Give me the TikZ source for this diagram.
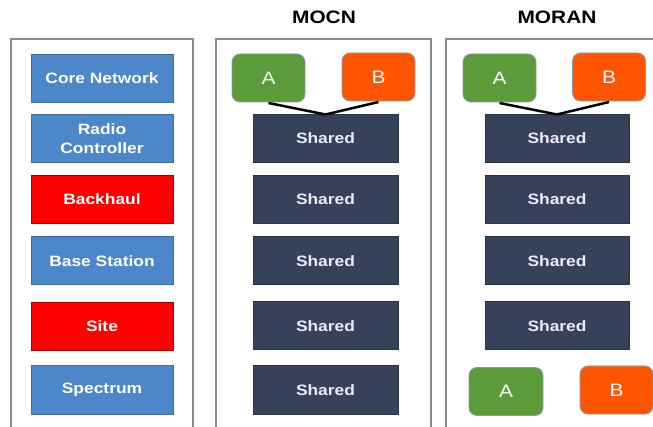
\documentclass[tikz,border=0pt]{standalone}
\usepackage{fontspec}
\newfontfamily\boxfont{Liberation Sans}[FakeStretch=1.16]
\definecolor{layerblue}{HTML}{4C87C9}
\definecolor{layerblueedge}{HTML}{3D6C9E}
\definecolor{layerred}{HTML}{FF0000}
\definecolor{layerrededge}{HTML}{A00000}
\definecolor{shareddark}{HTML}{36425A}
\definecolor{shareddarkedge}{HTML}{2A3447}
\definecolor{opgreen}{HTML}{5B9B3A}
\definecolor{oporange}{HTML}{FF5500}
\definecolor{opedge}{HTML}{8A9AA8}
\definecolor{panelgray}{HTML}{8C8C8C}
\tikzset{
  x=1pt, y=-1pt,
  layer/.style={rectangle, inner sep=0pt, outer sep=0pt, minimum width=142pt,
    minimum height=48pt, line width=1pt, text=white,
    font=\boxfont\bfseries\fontsize{15}{19}\selectfont, align=center},
  bluelayer/.style={layer, fill=layerblue, draw=layerblueedge},
  redlayer/.style={layer, fill=layerred, draw=layerrededge},
  sharedlayer/.style={layer, fill=shareddark, draw=shareddarkedge,
    minimum width=145pt, text=white!92!blue},
  operator/.style={rectangle, rounded corners=8pt, inner sep=0pt, outer sep=0pt,
    minimum width=73pt, minimum height=48pt, line width=0.8pt, draw=opedge,
    text=white, font=\boxfont\fontsize{18}{20}\selectfont},
  opA/.style={operator, fill=opgreen},
  opB/.style={operator, fill=oporange},
  panel/.style={draw=panelgray, line width=1.5pt},
  title/.style={font=\boxfont\bfseries\fontsize{18}{20}\selectfont, text=black},
  link/.style={draw=black, line width=2.5pt}
}
\begin{document}
\begin{tikzpicture}
\useasboundingbox (0,0) rectangle (653,427);
\clip (0,0) rectangle (653,427);

% panel frames, open at the bottom
\draw[panel] (11,440) -- (11,39) -- (193,39) -- (193,440);
\draw[panel] (216,440) -- (216,39) -- (431,39) -- (431,440);
\draw[panel] (446,440) -- (446,39) -- (670,39) -- (670,440);

% column titles
\node[title] (tmocn) at (324,17) {MOCN};
\node[title] (tmoran) at (557,17) {MORAN};

% network layers
\node[bluelayer] (l1) at (102,78.5) {Core Network};
\node[bluelayer] (l2) at (102,138.5) {Radio\\Controller};
\node[redlayer]  (l3) at (102,199.5) {Backhaul};
\node[bluelayer] (l4) at (102,261) {Base Station};
\node[redlayer]  (l5) at (102,326.5) {Site};
\node[bluelayer] (l6) at (102,390) {Spectrum};

% MOCN: everything below the core is shared
\node[opA] (ma) at (268.5,78) {A};
\node[opB] (mb) at (378.5,77) {B};
\node[sharedlayer] (m1) at (325.5,138.5) {Shared};
\node[sharedlayer] (m2) at (325.5,199.5) {Shared};
\node[sharedlayer] (m3) at (325.5,261) {Shared};
\node[sharedlayer] (m4) at (325.5,326) {Shared};
\node[sharedlayer] (m5) at (325.5,390) {Shared};
\draw[link] ([yshift=-1pt]ma.south) -- (m1.north) -- ([yshift=-1pt]mb.south);

% MORAN: spectrum stays with each operator
\node[opA] (ra) at (499.5,78) {A};
\node[opB] (rb) at (609,77) {B};
\node[sharedlayer, minimum width=144pt] (r1) at (557,138.5) {Shared};
\node[sharedlayer, minimum width=144pt] (r2) at (557,199.5) {Shared};
\node[sharedlayer, minimum width=144pt] (r3) at (557,261) {Shared};
\node[sharedlayer, minimum width=144pt] (r4) at (557,326) {Shared};
\draw[link] ([yshift=-1pt]ra.south) -- (r1.north) -- ([yshift=-1pt]rb.south);
\node[opA, minimum width=74pt] (ra2) at (506,391.5) {A};
\node[opB] (rb2) at (616.5,390) {B};
\end{tikzpicture}
\end{document}
